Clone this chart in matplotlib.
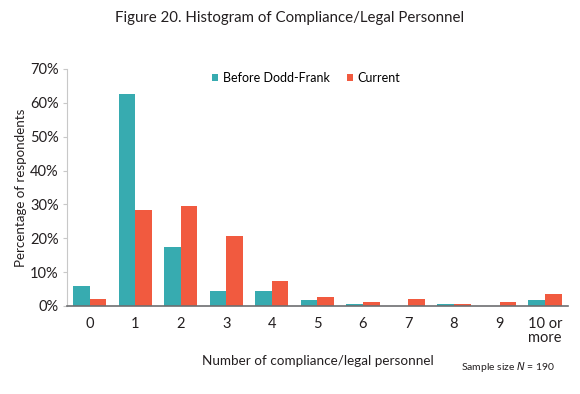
import matplotlib
matplotlib.use("Agg")
import matplotlib.pyplot as plt
import numpy as np

categories = ["0", "1", "2", "3", "4", "5", "6", "7", "8", "9", "10 or\nmore"]
before = [5.8, 62.7, 17.4, 4.3, 4.3, 1.7, 0.5, 0.0, 0.5, 0.0, 1.7]
current = [2.1, 28.4, 29.6, 20.6, 7.5, 2.7, 1.2, 2.1, 0.5, 1.2, 3.6]
yticks = [0, 10, 20, 30, 40, 50, 60, 70]

plt.rcParams['font.family'] = ['Lato', 'DejaVu Sans']
teal = "#37abb0"
red = "#f15a3f"
txt = "#231f20"

fig = plt.figure(figsize=(5.8, 3.94), dpi=100)
ax = fig.add_axes([0.1155, 0.2234, 0.8635, 0.6015])
x = np.arange(len(categories))
w = 0.365
ax.bar(x - w/2, before, w, color=teal, label="Before Dodd-Frank")
ax.bar(x + w/2, current, w, color=red, label="Current")
ax.set_xlim(-0.5, len(categories) - 0.5)
ax.set_ylim(0, 70)
ax.set_yticks(yticks)
ax.set_yticklabels([f"{v}%" for v in yticks], fontsize=10.5, color=txt)
ax.set_xticks(x)
ax.set_xticklabels(categories, fontsize=10.5, color=txt, linespacing=1.0)
for s in ["top", "right"]:
    ax.spines[s].set_visible(False)
ax.spines["left"].set_color("#c8c8c8")
ax.spines["bottom"].set_color("#6d6e71")
ax.spines["bottom"].set_linewidth(1.2)
ax.tick_params(axis="y", length=3, color="#c8c8c8", pad=3)
ax.tick_params(axis="x", length=0, pad=8)
ax.set_ylabel("Percentage of respondents", fontsize=9.6, color=txt, labelpad=2)
ax.set_xlabel("Number of compliance/legal personnel", fontsize=9.7, color=txt, labelpad=7)
leg = ax.legend(loc="upper center", bbox_to_anchor=(0.478, 1.035), ncol=2, frameon=False,
                fontsize=9.0, handlelength=0.45, handleheight=0.45, handletextpad=0.4,
                columnspacing=1.4)
fig.text(0.5, 0.955, "Figure 20. Histogram of Compliance/Legal Personnel", ha="center", va="center",
         fontsize=10.8, color=txt)
fig.text(0.958, 0.068, "Sample size $\\it{N}$ = 190", ha="right", va="center", fontsize=7.5, color=txt)
fig.savefig("out.png", dpi=100)
